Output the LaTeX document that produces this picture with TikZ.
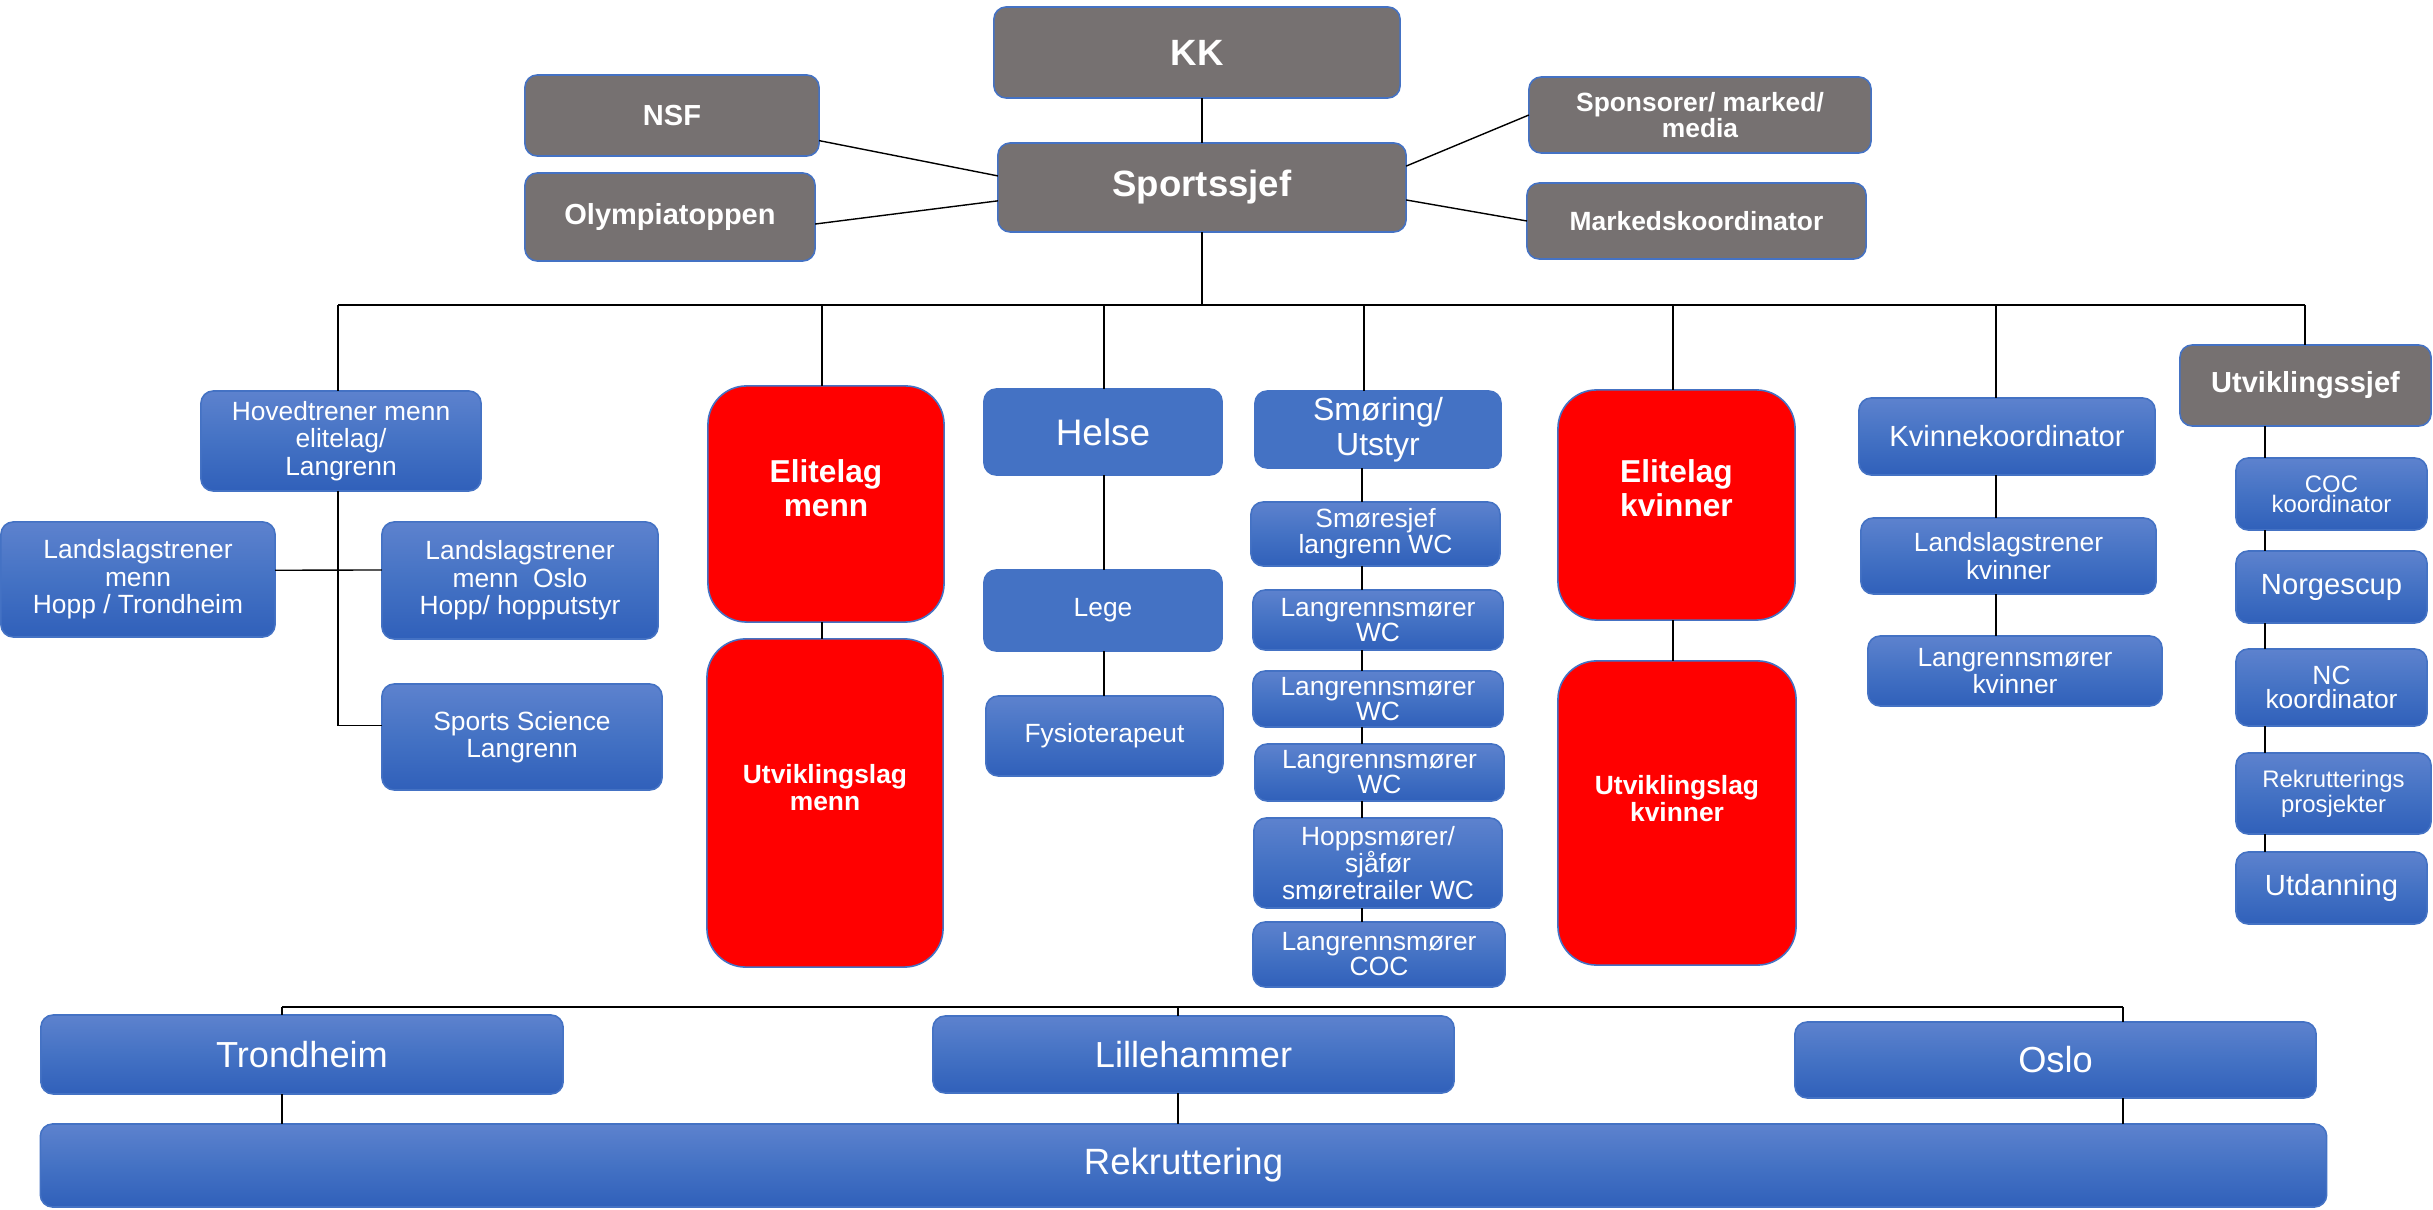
\documentclass[tikz,border=0pt]{standalone}
\usepackage{fontspec}
\setmainfont{Liberation Sans}
\usetikzlibrary{calc}
\definecolor{gry}{HTML}{767171}
\definecolor{blu}{HTML}{4472C4}
\definecolor{bluT}{HTML}{5D82CE}
\definecolor{bluB}{HTML}{3060BA}
\definecolor{edge}{HTML}{4472C4}
\newcommand{\fs}[2]{\fontsize{#1}{#2}\selectfont}
\newcommand{\bx}[7]{\node[#2,minimum width={(#5-#3)*0.28453pt},minimum height={(#6-#4)*0.28453pt}] (#1) at ({(#3+#5)/2},{(#4+#6)/2}) {#7};}
\tikzset{
  base/.style={draw=edge, line width=0.45pt, rounded corners=3.5pt, inner sep=0pt, outer sep=0pt, align=center, text=white},
  gbox/.style={base, fill=gry},
  fbox/.style={base, fill=blu},
  sbox/.style={base, top color=bluT, bottom color=bluB, middle color=blu},
  rbox/.style={base, fill=red, rounded corners=11pt},
  rtext/.style={inner sep=0pt, align=center, text=white},
  conn/.style={draw=black, line width=0.4pt},
  busline/.style={draw=black, line width=0.6pt},
}
\begin{document}
\begin{tikzpicture}[x=0.01cm,y=-0.01cm]
\fill[white] (0,0) rectangle (2433,1210);
\useasboundingbox (0,0) rectangle (2433,1210);

% top
\bx{KK}{gbox,font=\bfseries\fs{10.4}{11}}{994}{7}{1400}{98}{KK}
\bx{SS}{gbox,font=\bfseries\fs{10.4}{11}}{998}{143}{1406}{232}{Sportssjef}
\bx{NSF}{gbox,font=\bfseries\fs{8.25}{9}}{525}{75}{819}{156}{NSF}
\bx{OL}{gbox,font=\bfseries\fs{8.25}{9}}{525}{173}{815}{261}{Olympiatoppen}
\bx{SP}{gbox,font=\bfseries\fs{7.5}{7.6}}{1529}{77}{1871}{153}{Sponsorer/ marked/\\media}
\bx{MK}{gbox,font=\bfseries\fs{7.5}{7.6}}{1527}{183}{1866}{259}{Markedskoordinator}

% left column
\bx{HT}{sbox,font=\fs{7.5}{7.8}}{201}{391}{481}{491}{Hovedtrener menn\\elitelag/\\Langrenn}
\bx{L1}{sbox,font=\fs{7.5}{7.8}}{1}{522}{275}{637}{Landslagstrener\\menn\\Hopp / Trondheim}
\bx{L2}{sbox,font=\fs{7.5}{7.8}}{382}{522}{658}{639}{Landslagstrener\\menn\ \ Oslo\\Hopp/ hopputstyr}
\bx{SC}{sbox,font=\fs{7.5}{7.7}}{382}{684}{662}{790}{Sports Science\\Langrenn}

% red men
\bx{EM}{rbox}{708}{386}{944}{622}{}
\bx{UM}{rbox}{707}{639}{943}{967}{}
\node[rtext,font=\bfseries\fs{9}{9.7}] (EMt) at ([yshift=4.5pt]EM.center) {Elitelag\\menn};
\node[rtext,font=\bfseries\fs{7.5}{7.7}] (UMt) at ([yshift=4.5pt]UM.center) {Utviklingslag\\menn};

% helse
\bx{HE}{fbox,font=\fs{10.5}{11}}{984}{389}{1222}{475}{Helse}
\bx{LE}{fbox,font=\fs{7.5}{8}}{984}{570}{1222}{651}{Lege}
\bx{FY}{sbox,font=\fs{7.5}{8}}{986}{696}{1223}{776}{Fysioterapeut}

% smoring
\bx{SM}{fbox,font=\fs{9.1}{10}}{1255}{391}{1501}{468}{Smøring/\\Utstyr}
\bx{SJ}{sbox,font=\fs{7.5}{7.5}}{1251}{502}{1500}{566}{Smøresjef\\langrenn WC}
\bx{W1}{sbox,font=\fs{7.5}{7.1}}{1253}{590}{1503}{650}{Langrennsmører\\WC}
\bx{W2}{sbox,font=\fs{7.5}{7.1}}{1253}{671}{1503}{727}{Langrennsmører\\WC}
\bx{W3}{sbox,font=\fs{7.5}{7.1}}{1255}{744}{1504}{801}{Langrennsmører\\WC}
\bx{HS}{sbox,font=\fs{7.5}{7.7}}{1254}{818}{1502}{908}{Hoppsmører/\\sjåfør\\smøretrailer WC}
\bx{CO}{sbox,font=\fs{7.5}{7.1}}{1253}{922}{1505}{987}{Langrennsmører\\COC}

% red women
\bx{EK}{rbox}{1558}{390}{1795}{620}{}
\bx{UK}{rbox}{1558}{661}{1796}{965}{}
\node[rtext,font=\bfseries\fs{9}{9.7}] (EKt) at ([yshift=4.8pt]EK.center) {Elitelag\\kvinner};
\node[rtext,font=\bfseries\fs{7.5}{7.6}] (UKt) at ([yshift=4pt]UK.center) {Utviklingslag\\kvinner};

% kvinne
\bx{KV}{sbox,font=\fs{8.3}{9}}{1859}{398}{2155}{475}{Kvinnekoordinator}
\bx{LK}{sbox,font=\fs{7.5}{6.8}}{1861}{518}{2156}{594}{Landslagstrener\\kvinner}
\bx{LM}{sbox,font=\fs{7.5}{7.7}}{1868}{636}{2162}{706}{Langrennsmører\\kvinner}

% utvikling
\bx{US}{gbox,font=\bfseries\fs{8.25}{9}}{2180}{345}{2431}{426}{Utviklingssjef}
\bx{CC}{sbox,font=\fs{6.8}{5.6}}{2236}{458}{2427}{530}{COC\\koordinator}
\bx{NO}{sbox,font=\fs{8.3}{9}}{2236}{551}{2427}{623}{Norgescup}
\bx{NC}{sbox,font=\fs{7.5}{6.9}}{2236}{649}{2427}{726}{NC\\koordinator}
\bx{RP}{sbox,font=\fs{6.8}{7.1}}{2236}{753}{2431}{834}{Rekrutterings\\prosjekter}
\bx{UT}{sbox,font=\fs{8.3}{9}}{2236}{852}{2427}{924}{Utdanning}

% bottom
\bx{TR}{sbox,font=\fs{10.3}{11}}{41}{1015}{563}{1094}{Trondheim}
\bx{LI}{sbox,font=\fs{10.3}{11}}{933}{1016}{1454}{1093}{Lillehammer}
\bx{OS}{sbox,font=\fs{10.3}{11}}{1795}{1022}{2316}{1098}{Oslo}
\bx{RK}{sbox,font=\fs{10.4}{11}}{41}{1124}{2326}{1207}{Rekruttering}

% top connectors
\draw[conn] (SS.north) -- (SS.north |- KK.south);
\draw[conn] ($(NSF.north east)!0.81!(NSF.south east)$) -- ($(SS.north west)!0.37!(SS.south west)$);
\draw[conn] ($(OL.north east)!0.58!(OL.south east)$) -- ($(SS.north west)!0.65!(SS.south west)$);
\draw[conn] (SP.west) -- ($(SS.north east)!0.26!(SS.south east)$);
\draw[conn] (MK.west) -- ($(SS.north east)!0.64!(SS.south east)$);

% main bus
\coordinate (bL) at (338,305);
\coordinate (bR) at (2305,305);
\coordinate (dEM) at (822,305);
\coordinate (dHE) at (1104,305);
\coordinate (dSM) at (1364,305);
\coordinate (dEK) at (1673,305);
\coordinate (dKV) at (1996,305);
\draw[busline] (bL) -- (bR);
\draw[conn] (SS.south) -- (SS.south |- bL);
\draw[conn] (bL) -- (bL |- HT.north);
\draw[conn] (dEM) -- (dEM |- EM.north);
\draw[conn] (dHE) -- (dHE |- HE.north);
\draw[conn] (dSM) -- (dSM |- SM.north);
\draw[conn] (dEK) -- (dEK |- EK.north);
\draw[conn] (dKV) -- (dKV |- KV.north);
\draw[conn] (bR) -- (bR |- US.north);

% left tree
\coordinate (SCa) at ($(SC.north west)!0.39!(SC.south west)$);
\draw[conn] (bL |- HT.south) -- (bL |- SCa) -- (SCa);
\draw[conn] ($(L1.north east)!0.42!(L1.south east)$) -- ($(L2.north west)!0.41!(L2.south west)$);

% columns
\draw[conn] (dEM |- EM.south) -- (dEM |- UM.north);
\draw[conn] (dHE |- HE.south) -- (dHE |- LE.north);
\draw[conn] (dHE |- LE.south) -- (dHE |- FY.north);
\coordinate (cS) at (1362,0);
\draw[conn] (cS |- SM.south) -- (cS |- SJ.north);
\draw[conn] (cS |- SJ.south) -- (cS |- W1.north);
\draw[conn] (cS |- W1.south) -- (cS |- W2.north);
\draw[conn] (cS |- W2.south) -- (cS |- W3.north);
\draw[conn] (cS |- W3.south) -- (cS |- HS.north);
\draw[conn] (cS |- HS.south) -- (cS |- CO.north);
\draw[conn] (dEK |- EK.south) -- (dEK |- UK.north);
\draw[conn] (dKV |- KV.south) -- (dKV |- LK.north);
\draw[conn] (dKV |- LK.south) -- (dKV |- LM.north);
\coordinate (cU) at (2265,0);
\draw[conn] (cU |- US.south) -- (cU |- CC.north);
\draw[conn] (cU |- CC.south) -- (cU |- NO.north);
\draw[conn] (cU |- NO.south) -- (cU |- NC.north);
\draw[conn] (cU |- NC.south) -- (cU |- RP.north);
\draw[conn] (cU |- RP.south) -- (cU |- UT.north);

% bottom bus
\coordinate (b2L) at (282,1007);
\coordinate (b2M) at (1178,1007);
\coordinate (b2R) at (2123,1007);
\draw[busline] (b2L) -- (b2R);
\draw[conn] (b2L) -- (b2L |- TR.north);
\draw[conn] (b2M) -- (b2M |- LI.north);
\draw[conn] (b2R) -- (b2R |- OS.north);
\draw[conn] (b2L |- TR.south) -- (b2L |- RK.north);
\draw[conn] (b2M |- LI.south) -- (b2M |- RK.north);
\draw[conn] (b2R |- OS.south) -- (b2R |- RK.north);
\end{tikzpicture}
\end{document}
